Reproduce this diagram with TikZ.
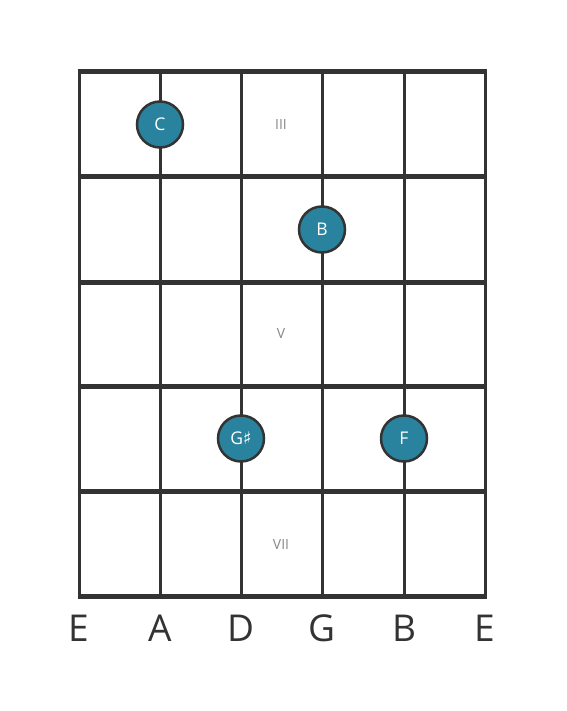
\documentclass[tikz,border=0pt]{standalone}
\usepackage{fontspec}
\setmainfont{Open Sans}
\newfontfamily\symfont{DejaVu Sans}
\definecolor{ink}{HTML}{333333}
\definecolor{teal}{HTML}{2A839E}
\definecolor{mark}{HTML}{888888}
\begin{document}
\begin{tikzpicture}[x=1pt,y=-1pt,
  fret/.style={draw=ink,line width=5pt},
  stringline/.style={draw=ink,line width=3pt},
  note/.style={circle,fill=teal,draw=ink,line width=2.5pt,minimum size=46pt,inner sep=0pt,text=white,font=\fontsize{17.5}{17.5}\selectfont},
  fretnum/.style={text=mark,font=\fontsize{14}{14}\selectfont},
  strname/.style={text=ink,font=\fontsize{37}{37}\selectfont}]
\useasboundingbox (0,0) rectangle (566,711);
\foreach \x/\n in {79/s1,160/s2,241/s3,322/s4,404/s5,485/s6}{
  \coordinate (\n t) at (\x,72);
  \coordinate (\n b) at (\x,596);
  \draw[stringline] (\n t) -- (\n b);
}
\foreach \y/\n in {72/f0,177/f1,282/f2,386/f3,491/f4,596/f5}{
  \coordinate (\n l) at (77.5,\y);
  \coordinate (\n r) at (486.5,\y);
  \draw[fret] (\n l) -- (\n r);
}
\node[fretnum] (m3) at (281,125) {III};
\node[fretnum] (m5) at (281,334) {V};
\node[fretnum] (m7) at (281,544) {VII};
\node[note] (nC) at (160,124.5) {C};
\node[note] (nB) at (322,229.5) {B};
\node[note] (nGs) at (241,438.5) {G{\symfont ♯}};
\node[note] (nF) at (404,438.5) {F};
\foreach \x/\l/\n in {79/E/e1,160/A/a,241/D/d,322/G/g,404/B/b,485/E/e2}{
  \node[strname] (\n) at (\x,628) {\l};
}
\end{tikzpicture}
\end{document}
